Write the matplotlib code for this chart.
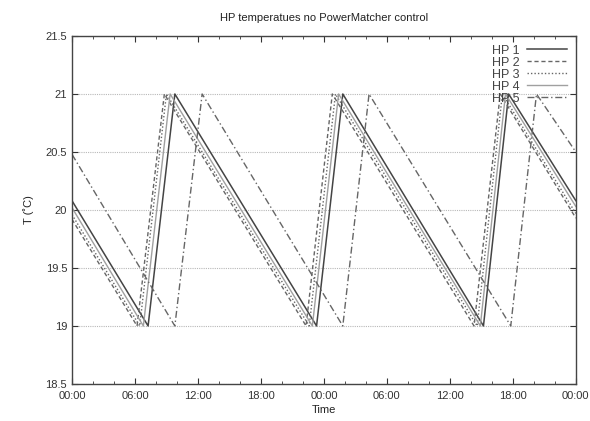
import matplotlib
matplotlib.use("Agg")
import matplotlib.pyplot as plt
from matplotlib.ticker import MultipleLocator, FuncFormatter

plt.rcParams['font.family'] = ['Liberation Sans', 'DejaVu Sans']

# Time in hours (vertices of the sawtooth profiles)
hp1_t = [0, 7.25, 9.8, 23.3, 25.8, 39.2, 41.6, 48]
hp1_v = [20.08, 19, 21, 19, 21, 19, 21, 20.08]
hp2_t = [0, 6.2, 8.8, 22.3, 24.8, 38.3, 40.8, 48]
hp2_v = [19.92, 19, 21, 19, 21, 19, 21, 19.93]
hp3_t = [0, 6.45, 9.0, 22.6, 25.1, 38.6, 41.0, 48]
hp3_v = [19.96, 19, 21, 19, 21, 19, 21, 19.97]
hp4_t = [0, 6.8, 9.35, 22.9, 25.4, 38.9, 41.3, 48]
hp4_v = [20.02, 19, 21, 19, 21, 19, 21, 20.03]
hp5_t = [0, 9.8, 12.4, 25.8, 28.3, 41.8, 44.25, 48]
hp5_v = [20.48, 19, 21, 19, 21, 19, 21, 20.5]

labels = ["HP 1", "HP 2", "HP 3", "HP 4", "HP 5"]
xtick_labels = ["00:00", "06:00", "12:00", "18:00", "00:00", "06:00", "12:00", "18:00", "00:00"]

fig = plt.figure(figsize=(5.9, 4.21), dpi=100)
ax = fig.add_axes([0.122, 0.088, 0.854, 0.8265])

ax.plot(hp1_t, hp1_v, color='#444444', lw=1.1, ls='-', label=labels[0])
ax.plot(hp2_t, hp2_v, color='#666666', lw=1.0, ls=(0, (3, 2)), label=labels[1])
ax.plot(hp3_t, hp3_v, color='#666666', lw=1.0, ls=(0, (1, 1.5)), label=labels[2])
ax.plot(hp4_t, hp4_v, color='#a0a0a0', lw=1.0, ls='-', label=labels[3])
ax.plot(hp5_t, hp5_v, color='#666666', lw=1.0, ls=(0, (5, 2, 1, 2)), label=labels[4])

ax.set_xlim(0, 48)
ax.set_ylim(18.5, 21.5)
ax.xaxis.set_minor_locator(MultipleLocator(2))
ax.set_xticks([6 * i for i in range(len(xtick_labels))])
ax.set_xticklabels(xtick_labels)
ax.yaxis.set_major_locator(MultipleLocator(0.5))
ax.yaxis.set_major_formatter(FuncFormatter(lambda v, p: ('%g' % v)))

ax.tick_params(which='both', direction='in', top=True, right=True, colors='#333333', labelsize=8)
ax.tick_params(which='major', length=4)
ax.tick_params(which='minor', length=2.5)
ax.tick_params(axis='x', pad=5)
ax.grid(axis='y', which='major', color='#b8b8b8', ls=(0, (1, 1)), lw=0.8)
for s in ax.spines.values():
    s.set_color('#444444')
    s.set_linewidth(1.0)

ax.set_title("HP temperatues no PowerMatcher control", fontsize=8, color='#222222', pad=11)
ax.set_xlabel("Time", fontsize=8, color='#222222', labelpad=3)
ax.set_ylabel("T (˚C)", fontsize=8, color='#222222', labelpad=8)

leg = ax.legend(loc='upper right', frameon=False, markerfirst=False, fontsize=9,
                handlelength=3.2, labelspacing=0.0, borderaxespad=0.3, handletextpad=0.6)
for t in leg.get_texts():
    t.set_color('#444444')

fig.savefig("out.png", dpi=100)
